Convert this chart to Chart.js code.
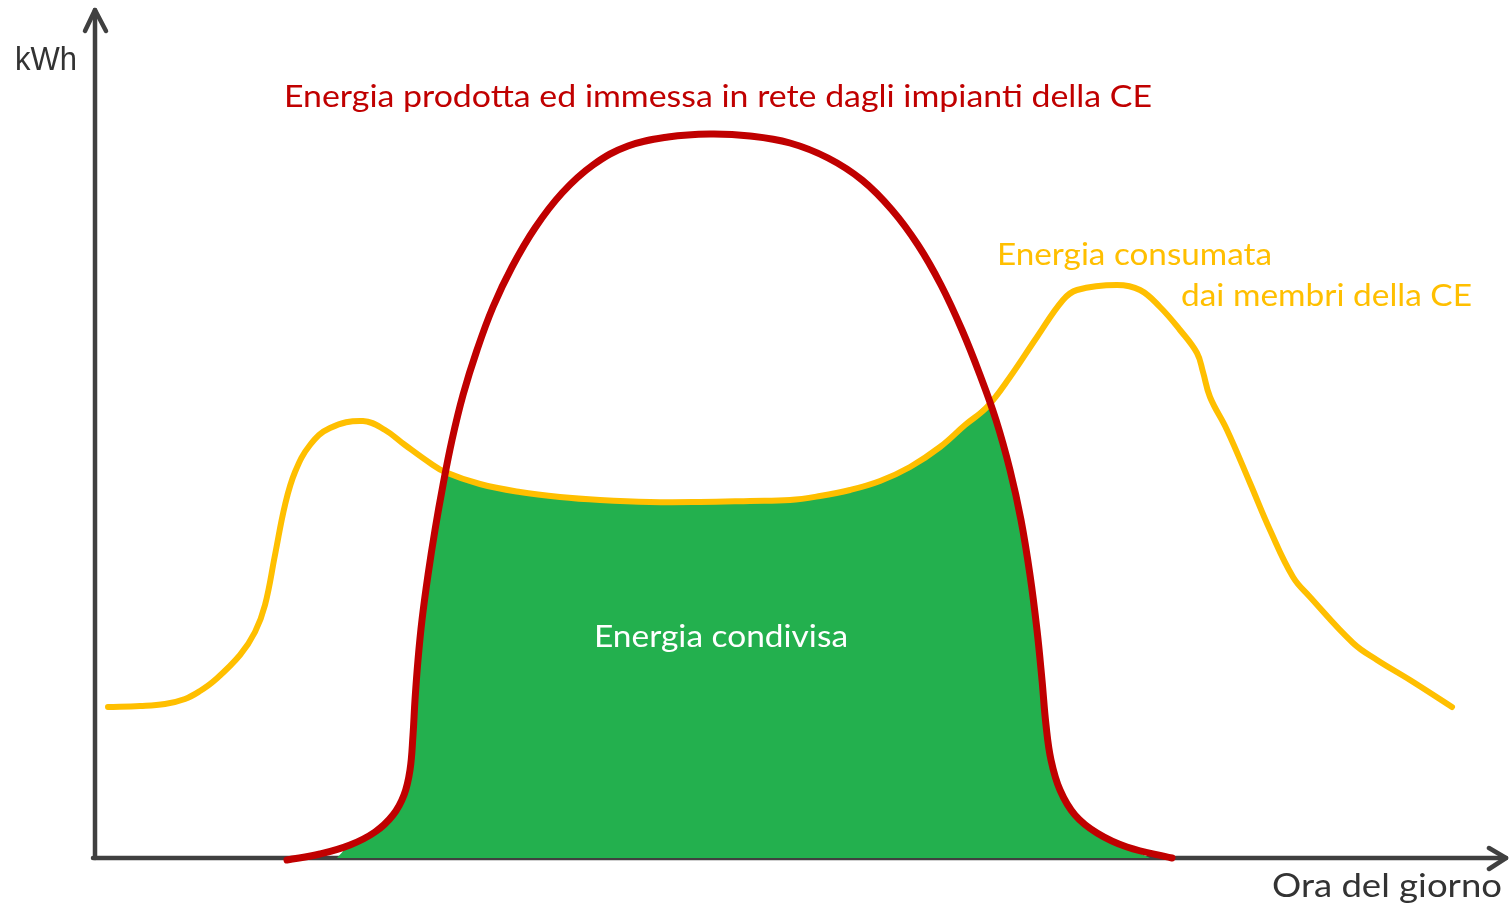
<!DOCTYPE html>
<html>
<head>
<meta charset="utf-8">
<script src="https://cdn.jsdelivr.net/npm/chart.js@4/dist/chart.umd.min.js"></script>
<style>
  html, body { margin: 0; padding: 0; background: #ffffff; }
  #wrap { width: 1509px; height: 912px; position: relative; }
</style>
</head>
<body>
<div id="wrap"><canvas id="c"></canvas></div>
<script>
// ---- Data (arbitrary units: x = time of day, y = kWh) ----
const consumoX = [1.3, 4.5, 7.0, 9.0, 10.5, 12.0, 14.5, 16.0, 17.0, 18.0, 19.0, 20.0, 21.5, 23.5, 26.8, 29.0, 31.0, 33.5, 35.0, 38.5, 42.5, 46.5, 50.5, 55.5, 60.5, 65.5, 69.5, 72.5, 75.5, 78.5, 81.5, 84.5, 87.0, 89.2, 91.5, 94.2, 96.8, 98.2, 102.2, 104.5, 106.5, 108.5, 110.2, 110.8, 111.5, 113.2, 115.5, 117.5, 119.8, 121.5, 125.8, 128.2, 131.5, 135.7];
const consumoY = [15.1, 15.2, 15.4, 15.9, 16.7, 17.8, 20.3, 22.6, 25.3, 30.3, 35.3, 38.6, 41.3, 43.0, 43.7, 42.8, 41.3, 39.5, 38.6, 37.4, 36.6, 36.1, 35.8, 35.6, 35.6, 35.7, 35.8, 36.2, 36.8, 37.7, 39.1, 41.1, 43.3, 45.1, 48.1, 52.1, 55.8, 56.8, 57.3, 56.8, 55.1, 52.8, 50.5, 48.6, 46.1, 42.8, 37.5, 32.8, 28.1, 26.1, 21.5, 19.8, 17.8, 15.1];

const produzioneX = [19.2, 22.5, 25.5, 28.0, 29.8, 30.9, 31.5, 31.8, 32.0, 32.3, 32.7, 33.3, 34.0, 34.8, 35.7, 36.8, 38.2, 39.8, 41.7, 44.0, 46.7, 49.8, 53.3, 57.3, 61.5, 65.5, 69.5, 73.3, 76.7, 79.7, 82.3, 84.6, 86.7, 88.5, 90.1, 91.5, 92.6, 93.5, 94.2, 94.7, 95.1, 95.6, 96.5, 98.0, 100.2, 103.2, 107.7];
const produzioneY = [-0.2, 0.4, 1.3, 2.6, 4.3, 6.3, 8.8, 12.3, 15.8, 19.8, 23.8, 28.3, 32.8, 37.3, 41.8, 46.3, 50.8, 55.1, 59.1, 63.0, 66.5, 69.3, 71.2, 72.1, 72.4, 72.2, 71.5, 70.0, 67.8, 64.8, 61.3, 57.3, 52.8, 48.3, 43.8, 38.8, 33.8, 28.3, 22.8, 17.8, 13.3, 9.8, 6.8, 4.3, 2.5, 1.1, 0.0];

const condivisaX = [24.2, 25.5, 28.0, 29.8, 30.9, 31.5, 31.8, 32.0, 32.3, 32.7, 33.3, 34.0, 34.8, 35.0, 38.5, 42.5, 46.5, 50.5, 55.5, 60.5, 65.5, 69.5, 72.5, 75.5, 78.5, 81.5, 84.5, 87.0, 89.5, 90.1, 91.5, 92.6, 93.5, 94.2, 94.7, 95.1, 95.6, 96.5, 98.0, 100.2, 103.2, 105.5];
const condivisaY = [0.0, 1.3, 2.6, 4.3, 6.3, 8.8, 12.3, 15.8, 19.8, 23.8, 28.3, 32.8, 37.3, 38.6, 37.4, 36.6, 36.1, 35.8, 35.6, 35.6, 35.7, 35.8, 36.2, 36.8, 37.7, 39.1, 41.1, 43.3, 45.4, 43.8, 38.8, 33.8, 28.3, 22.8, 17.8, 13.3, 9.8, 6.8, 4.3, 2.5, 1.1, 0.0];

const xRange = [0, 141];
const yRange = [0, 84.6];

const labelY = 'kWh';
const labelX = 'Ora del giorno';
const labelProduzione = 'Energia prodotta ed immessa in rete dagli impianti della CE';
const labelConsumo1 = 'Energia consumata';
const labelConsumo2 = 'dai membri della CE';
const labelCondivisa = 'Energia condivisa';

const pts = (xs, ys) => xs.map((x, i) => ({ x: x, y: ys[i] }));

const RED = '#c00000';
const YELLOW = '#ffbf00';
const GREEN = '#23b04e';
const AXIS = '#404040';

function drawFit(ctx, text, x, baseline, targetW, font, color) {
  ctx.save();
  ctx.font = font;
  ctx.fillStyle = color;
  ctx.textBaseline = 'alphabetic';
  ctx.textAlign = 'left';
  const w = ctx.measureText(text).width;
  const s = targetW / w;
  ctx.translate(x, baseline);
  ctx.scale(s, 1);
  ctx.fillText(text, 0, 0);
  ctx.restore();
}

const axesPlugin = {
  id: 'axesArrows',
  beforeDatasetsDraw(chart) {
    const ctx = chart.ctx;
    const a = chart.chartArea;
    ctx.save();
    ctx.strokeStyle = AXIS;
    ctx.lineWidth = 4.5;
    ctx.lineCap = 'round';
    ctx.lineJoin = 'round';
    ctx.beginPath();
    ctx.moveTo(a.left, a.bottom);
    ctx.lineTo(a.left, a.top - 2);
    ctx.stroke();
    ctx.beginPath();
    ctx.moveTo(a.left - 10, a.top + 19);
    ctx.lineTo(a.left, a.top - 2);
    ctx.lineTo(a.left + 11, a.top + 19);
    ctx.stroke();
    ctx.beginPath();
    ctx.moveTo(a.left - 2, a.bottom);
    ctx.lineTo(a.right + 1, a.bottom);
    ctx.stroke();
    ctx.beginPath();
    ctx.moveTo(a.right - 16, a.bottom - 10);
    ctx.lineTo(a.right + 1, a.bottom);
    ctx.lineTo(a.right - 16, a.bottom + 11);
    ctx.stroke();
    ctx.restore();
  },
  afterDatasetsDraw(chart) {
    const ctx = chart.ctx;
    const LATO = '"Lato", "Open Sans", sans-serif';
    drawFit(ctx, labelY, 15, 70, 62, '33px "Liberation Sans", Arial, sans-serif', '#333333');
    drawFit(ctx, labelProduzione, 284, 107, 868, '31px ' + LATO, RED);
    drawFit(ctx, labelConsumo1, 997, 265, 275, '31px ' + LATO, YELLOW);
    drawFit(ctx, labelConsumo2, 1181, 306, 291, '31px ' + LATO, YELLOW);
    drawFit(ctx, labelCondivisa, 594, 647, 254, '31px ' + LATO, '#ffffff');
    drawFit(ctx, labelX, 1272, 897, 230, '33px ' + LATO, '#333333');
  }
};

const common = { pointRadius: 0, tension: 0.4, clip: false };

new Chart(document.getElementById('c'), {
  type: 'line',
  data: {
    datasets: [
      Object.assign({
        label: 'Produzione',
        data: pts(produzioneX, produzioneY),
        borderColor: RED,
        borderWidth: 7,
        borderCapStyle: 'round',
        borderJoinStyle: 'round',
        fill: false,
        order: 0
      }, common),
      Object.assign({
        label: 'Consumo',
        data: pts(consumoX, consumoY),
        borderColor: YELLOW,
        borderWidth: 6,
        borderCapStyle: 'round',
        borderJoinStyle: 'round',
        fill: false,
        order: 1
      }, common),
      Object.assign({
        label: 'Condivisa',
        data: pts(condivisaX, condivisaY),
        borderColor: 'rgba(0,0,0,0)',
        borderWidth: 0,
        backgroundColor: GREEN,
        fill: 'origin',
        order: 2
      }, common)
    ]
  },
  options: {
    responsive: true,
    maintainAspectRatio: false,
    animation: false,
    events: [],
    layout: { padding: { left: 95, right: 4, top: 12, bottom: 54 } },
    scales: {
      x: { type: 'linear', min: xRange[0], max: xRange[1], display: false },
      y: { type: 'linear', min: yRange[0], max: yRange[1], display: false }
    },
    plugins: {
      legend: { display: false },
      tooltip: { enabled: false },
      title: { display: false }
    }
  },
  plugins: [axesPlugin]
});
</script>
</body>
</html>
